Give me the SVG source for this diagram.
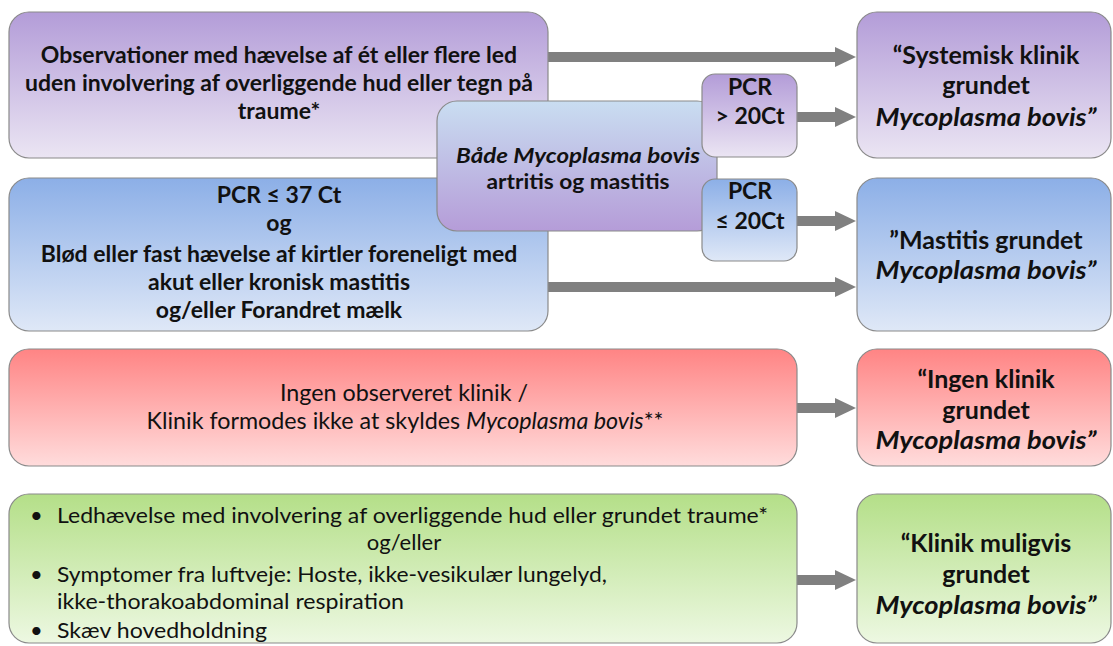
<svg xmlns="http://www.w3.org/2000/svg" width="1113" height="646" viewBox="0 0 1113 646">
<defs>
<linearGradient id="gPurple" x1="0" y1="0" x2="0" y2="1"><stop offset="0" stop-color="#b39cd8"/><stop offset="1" stop-color="#ebe5f3"/></linearGradient>
<linearGradient id="gBlue" x1="0" y1="0" x2="0" y2="1"><stop offset="0" stop-color="#8cafe7"/><stop offset="1" stop-color="#dfe8f7"/></linearGradient>
<linearGradient id="gRed" x1="0" y1="0" x2="0" y2="1"><stop offset="0" stop-color="#ff8484"/><stop offset="1" stop-color="#ffdcdc"/></linearGradient>
<linearGradient id="gGreen" x1="0" y1="0" x2="0" y2="1"><stop offset="0" stop-color="#b4df88"/><stop offset="1" stop-color="#edf8e2"/></linearGradient>
<linearGradient id="gMid" x1="0" y1="0" x2="0" y2="1"><stop offset="0" stop-color="#c9ddf1"/><stop offset="1" stop-color="#b59cd8"/></linearGradient>
<marker id="ah" markerUnits="userSpaceOnUse" markerWidth="21" markerHeight="20" refX="0" refY="10" orient="auto"><path d="M0,0 L21,10 L0,20 z" fill="#808080"/></marker>
</defs>
<style>
.box{stroke:#8a8a8a;stroke-width:1.2}
.t{font-family:Lato,"Liberation Sans",sans-serif;font-weight:bold;font-size:23px;fill:#111;text-anchor:middle}
.m{font-size:21.5px}
.r{font-family:Lato,"Liberation Sans",sans-serif;font-weight:bold;font-size:25px;fill:#111;text-anchor:middle}
.n{font-family:Lato,"Liberation Sans",sans-serif;font-weight:normal;font-size:23.3px;fill:#111}
.g{font-size:22px}
.c{text-anchor:middle}
.i{font-style:italic}
.arr{stroke:#808080;stroke-width:10;fill:none;marker-end:url(#ah)}
</style>
<rect width="1113" height="646" fill="#ffffff"/>

<g id="connectors">
<line class="arr" x1="548" y1="57" x2="835" y2="57"/>
<line class="arr" x1="797" y1="117" x2="835" y2="117"/>
<line class="arr" x1="797" y1="221" x2="835" y2="221"/>
<line class="arr" x1="548" y1="287" x2="835" y2="287"/>
<line class="arr" x1="797" y1="408" x2="835" y2="408"/>
<line class="arr" x1="797" y1="580" x2="835" y2="580"/>
</g>

<g id="node-observationer">
<rect class="box" x="9" y="12" width="539" height="146" rx="20" fill="url(#gPurple)"/>
<text class="t" x="279" y="63">Observationer med hævelse af ét eller flere led</text>
<text class="t" x="279" y="91">uden involvering af overliggende hud eller tegn på</text>
<text class="t" x="279" y="119">traume*</text>
</g>

<g id="node-pcr37">
<rect class="box" x="9" y="178" width="539" height="153" rx="20" fill="url(#gBlue)"/>
<text class="t" x="279" y="203">PCR ≤ 37 Ct</text>
<text class="t" x="279" y="231">og</text>
<text class="t" x="279" y="262">Blød eller fast hævelse af kirtler foreneligt med</text>
<text class="t" x="279" y="290">akut eller kronisk mastitis</text>
<text class="t" x="279" y="318">og/eller Forandret mælk</text>
</g>

<g id="node-begge">
<rect class="box" x="437" y="101" width="280" height="130" rx="20" fill="url(#gMid)"/>
<text class="t m i" x="578" y="163" textLength="244" lengthAdjust="spacingAndGlyphs">Både Mycoplasma bovis</text>
<text class="t m" x="578" y="189" textLength="183" lengthAdjust="spacingAndGlyphs">artritis og mastitis</text>
</g>

<g id="node-pcr-gt20">
<rect class="box" x="702" y="74" width="95" height="83" rx="13" fill="url(#gPurple)"/>
<text class="t" x="750" y="95">PCR</text>
<text class="t" x="750" y="124">&gt; 20Ct</text>
</g>

<g id="node-pcr-le20">
<rect class="box" x="702" y="179" width="95" height="82" rx="13" fill="url(#gBlue)"/>
<text class="t" x="750" y="199">PCR</text>
<text class="t" x="750" y="229">≤ 20Ct</text>
</g>

<g id="node-systemisk">
<rect class="box" x="857" y="12" width="254" height="146" rx="20" fill="url(#gPurple)"/>
<text class="r" x="986" y="64">“Systemisk klinik</text>
<text class="r" x="986" y="94">grundet</text>
<text class="r i" x="986" y="126" textLength="221" lengthAdjust="spacingAndGlyphs">Mycoplasma bovis”</text>
</g>

<g id="node-mastitis">
<rect class="box" x="857" y="178" width="254" height="153" rx="20" fill="url(#gBlue)"/>
<text class="r" x="986" y="249">”Mastitis grundet</text>
<text class="r i" x="986" y="279" textLength="221" lengthAdjust="spacingAndGlyphs">Mycoplasma bovis”</text>
</g>

<g id="node-ingen">
<rect class="box" x="9" y="349" width="788" height="117" rx="20" fill="url(#gRed)"/>
<text class="n c" x="404" y="401">Ingen observeret klinik /</text>
<text class="n c" x="405" y="429">Klinik formodes ikke at skyldes <tspan class="i">Mycoplasma bovis</tspan>**</text>
</g>

<g id="node-ingen-result">
<rect class="box" x="857" y="349" width="254" height="117" rx="20" fill="url(#gRed)"/>
<text class="r" x="986" y="388">“Ingen klinik</text>
<text class="r" x="986" y="419">grundet</text>
<text class="r i" x="986" y="449" textLength="221" lengthAdjust="spacingAndGlyphs">Mycoplasma bovis”</text>
</g>

<g id="node-ledhaevelse">
<rect class="box" x="9" y="494" width="788" height="149" rx="20" fill="url(#gGreen)"/>
<text class="n g" x="30" y="523">•</text>
<text class="n g" x="57" y="523" textLength="711" lengthAdjust="spacingAndGlyphs">Ledhævelse med involvering af overliggende hud eller grundet traume*</text>
<text class="n g c" x="404" y="550">og/eller</text>
<text class="n g" x="30" y="582">•</text>
<text class="n g" x="57" y="582" textLength="550" lengthAdjust="spacingAndGlyphs">Symptomer fra luftveje: Hoste, ikke-vesikulær lungelyd,</text>
<text class="n g" x="57" y="609" textLength="347" lengthAdjust="spacingAndGlyphs">ikke-thorakoabdominal respiration</text>
<text class="n g" x="30" y="638">•</text>
<text class="n g" x="57" y="638" textLength="210" lengthAdjust="spacingAndGlyphs">Skæv hovedholdning</text>
</g>

<g id="node-muligvis">
<rect class="box" x="857" y="494" width="254" height="149" rx="20" fill="url(#gGreen)"/>
<text class="r" x="986" y="552">“Klinik muligvis</text>
<text class="r" x="986" y="583">grundet</text>
<text class="r i" x="986" y="614" textLength="221" lengthAdjust="spacingAndGlyphs">Mycoplasma bovis”</text>
</g>
</svg>
